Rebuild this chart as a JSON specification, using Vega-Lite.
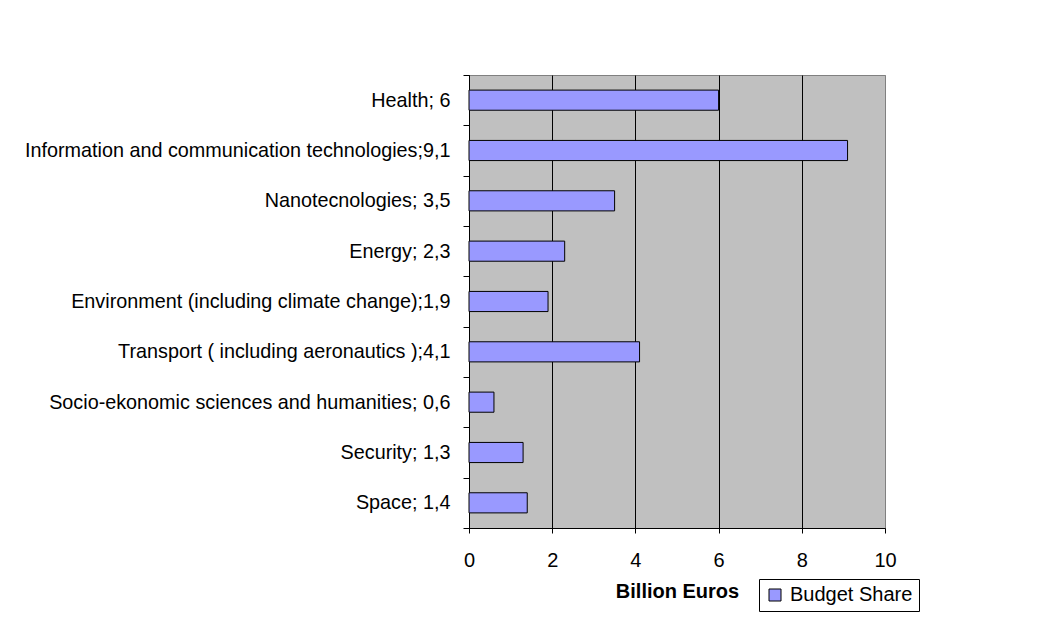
{
  "$schema": "https://vega.github.io/schema/vega-lite/v6.json",
  "width": 416,
  "height": 453,
  "autosize": {"type": "none"},
  "padding": {"left": 469, "top": 75, "right": 178, "bottom": 94},
  "background": "white",
  "data": {
    "values": [
      {"label": "Health; 6", "value": 6.0, "series": "Budget Share"},
      {"label": "Information and communication technologies;9,1", "value": 9.1, "series": "Budget Share"},
      {"label": "Nanotecnologies; 3,5", "value": 3.5, "series": "Budget Share"},
      {"label": "Energy; 2,3", "value": 2.3, "series": "Budget Share"},
      {"label": "Environment (including climate change);1,9", "value": 1.9, "series": "Budget Share"},
      {"label": "Transport ( including aeronautics );4,1", "value": 4.1, "series": "Budget Share"},
      {"label": "Socio-ekonomic sciences and humanities; 0,6", "value": 0.6, "series": "Budget Share"},
      {"label": "Security; 1,3", "value": 1.3, "series": "Budget Share"},
      {"label": "Space; 1,4", "value": 1.4, "series": "Budget Share"}
    ]
  },
  "mark": {"type": "bar", "stroke": "black", "strokeWidth": 1, "height": {"band": 0.4}},
  "encoding": {
    "y": {
      "field": "label",
      "type": "nominal",
      "sort": null,
      "scale": {"paddingInner": 0, "paddingOuter": 0},
      "axis": {
        "title": null,
        "tickBand": "extent",
        "tickSize": 6,
        "tickColor": "black",
        "domainColor": "black",
        "labelPadding": 13,
        "labelFontSize": 19.8,
        "labelColor": "black",
        "labelLimit": 0,
        "grid": false
      }
    },
    "x": {
      "field": "value",
      "type": "quantitative",
      "scale": {"domain": [0, 10], "nice": false},
      "axis": {
        "values": [0, 2, 4, 6, 8, 10],
        "title": "Billion Euros",
        "titleFontSize": 20,
        "titleFontWeight": "bold",
        "titleColor": "black",
        "titlePadding": 11,
        "tickSize": 5,
        "tickColor": "black",
        "domainColor": "black",
        "labelPadding": 17,
        "labelFontSize": 20,
        "labelColor": "black",
        "labelFlush": false,
        "grid": true,
        "gridColor": {"condition": {"test": "datum.value === 10", "value": "#808080"}, "value": "black"},
        "gridOpacity": 1
      }
    },
    "color": {
      "field": "series",
      "type": "nominal",
      "scale": {"domain": ["Budget Share"], "range": ["#9999FF"]},
      "legend": {
        "title": null,
        "orient": "none",
        "legendX": 290,
        "legendY": 504,
        "strokeColor": "black",
        "fillColor": "white",
        "padding": 6,
        "symbolType": "square",
        "symbolSize": 144,
        "symbolStrokeColor": "black",
        "symbolStrokeWidth": 1,
        "labelFontSize": 20,
        "labelColor": "black",
        "labelOffset": 5
      }
    }
  },
  "config": {
    "font": "Liberation Sans",
    "view": {"fill": "#C0C0C0", "stroke": "#808080", "strokeWidth": 1}
  }
}
